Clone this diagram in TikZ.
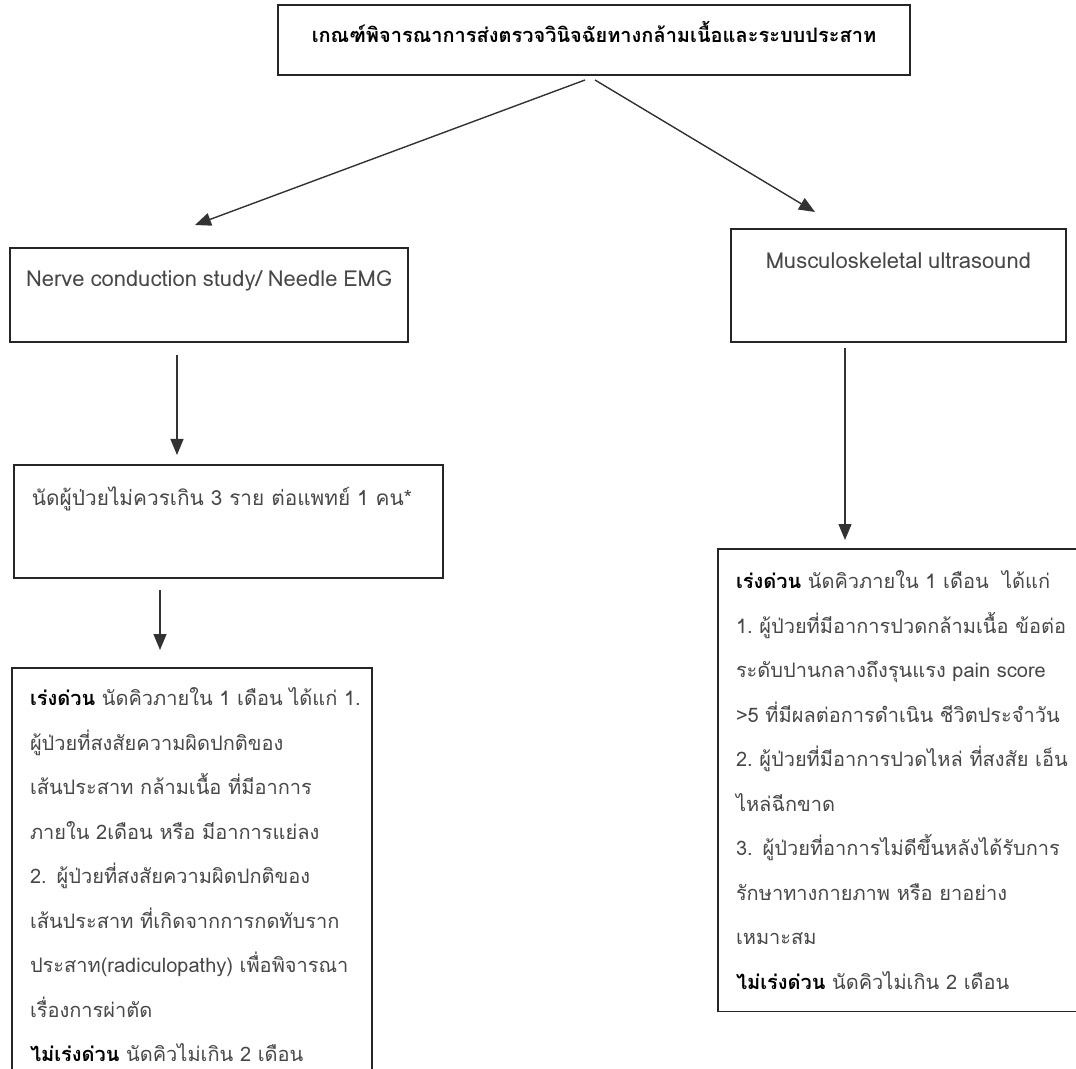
\documentclass[tikz,border=0pt]{standalone}
\usepackage{fontspec}
\setmainfont[Script=Thai,WordSpace=0.8]{Loma}
\usetikzlibrary{arrows.meta}

\begin{document}
\begin{tikzpicture}[x=0.5pt,y=-0.5pt,
    box/.style={draw=black!85, line width=0.8pt, anchor=north west, inner ysep=0pt, outer sep=0pt, text=black!72, font=\fontsize{11pt}{13pt}\selectfont},
    note/.style={box, align=left, inner xsep=9pt, font=\fontsize{10pt}{22.25pt}\selectfont},
    arr/.style={draw=black!80, line width=0.7pt, -{Triangle[length=8pt,width=6.5pt]}}]
\useasboundingbox (0,0) rectangle (1076,1069);
\clip (0,0) rectangle (1076,1069);
\node[box, minimum width=316pt, text height=19pt, text depth=16pt, text=black, font=\bfseries\fontsize{10pt}{12pt}\selectfont] (crit) at (278,5) {เกณฑ์พิจารณาการส่งตรวจวินิจฉัยทางกล้ามเนื้อและระบบประสาท};
\node[box, minimum width=199pt, text height=19.5pt, text depth=27.5pt] (ncs) at (10,248) {Nerve conduction study/ Needle EMG};
\node[box, minimum width=167.5pt, text height=20pt, text depth=36.5pt] (msk) at (731,229) {Musculoskeletal ultrasound};
\node[note, text width=196.5pt, text height=20pt, text depth=36.5pt, font=\fontsize{10.4pt}{14pt}\selectfont] (quota) at (14,465) {นัดผู้ป่วยไม่ควรเกิน~3~ราย~ต่อแพทย์~1~คน*};
\node[note, text width=162pt, inner ysep=10pt] (urgL) at (12,668) {\textbf{\color{black}เร่งด่วน}~นัดคิวภายใน~1~เดือน~ได้แก่~1.\\
  ผู้ป่วยที่สงสัยความผิดปกติของ\\
  เส้นประสาท กล้ามเนื้อ ที่มีอาการ\\
  ภายใน 2เดือน หรือ มีอาการแย่ลง\\
  2. ผู้ป่วยที่สงสัยความผิดปกติของ\\
  เส้นประสาท~ที่เกิดจากการกดทับราก\\
  ประสาท(radiculopathy)~เพื่อพิจารณา\\
  เรื่องการผ่าตัด\\
  \textbf{\color{black}ไม่เร่งด่วน} นัดคิวไม่เกิน 2 เดือน};
\node[note, text width=180pt, inner ysep=11pt] (urgR) at (718,549) {\textbf{\color{black}เร่งด่วน} นัดคิวภายใน 1 เดือน\ \ ได้แก่\\
  1.~ผู้ป่วยที่มีอาการปวดกล้ามเนื้อ~ข้อต่อ\\
  ระดับปานกลางถึงรุนแรง pain score\\
  >5~ที่มีผลต่อการดำเนิน~ชีวิตประจำวัน\\
  2.~ผู้ป่วยที่มีอาการปวดไหล่~ที่สงสัย~เอ็น\\
  ไหล่ฉีกขาด\\
  3. ผู้ป่วยที่อาการไม่ดีขึ้นหลังได้รับการ\\
  รักษาทางกายภาพ หรือ ยาอย่าง\\
  เหมาะสม\\
  \textbf{\color{black}ไม่เร่งด่วน} นัดคิวไม่เกิน 2 เดือน};
\draw[arr] ([shift={(-9,5)}]crit.south) -- ([shift={(-14,-23)}]ncs.north);
\draw[arr] ([shift={(1,5)}]crit.south) -- ([shift={(-83.5,-17)}]msk.north);
\draw[arr] ([shift={(-32,13)}]ncs.south) -- ([shift={(-51.5,-10)}]quota.north);
\draw[arr] ([shift={(-68.5,12)}]quota.south) -- ([shift={(-32,-18)}]urgL.north);
\draw[arr] ([shift={(-53.5,6)}]msk.south) -- ([shift={(-71,-9)}]urgR.north);
\end{tikzpicture}
\end{document}
